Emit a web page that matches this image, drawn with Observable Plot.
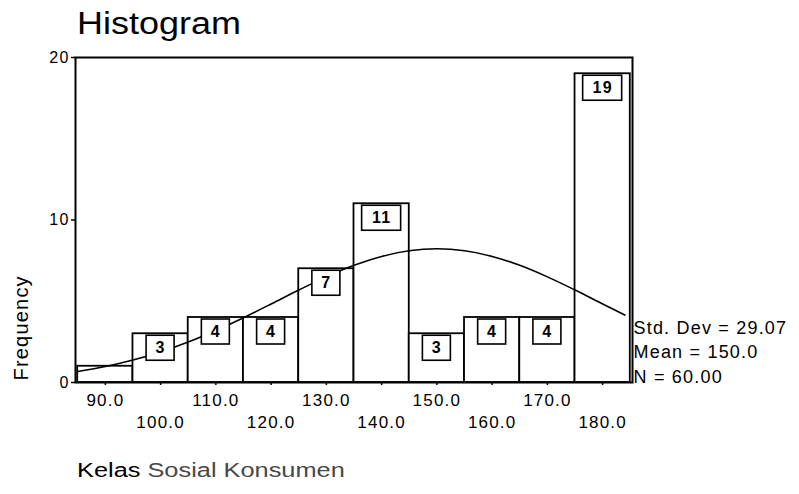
<!DOCTYPE html>
<html><head><meta charset="utf-8">
<script src="https://cdn.jsdelivr.net/npm/d3@7"></script>
<script src="https://cdn.jsdelivr.net/npm/@observablehq/plot@0.6"></script>
<style>
body{margin:0;background:#fff;}
#wrap{position:relative;width:799px;height:494px;overflow:hidden;font-family:"Liberation Sans",Arial,sans-serif;background:#fff;}
#title{position:absolute;left:77px;top:6px;font-size:31px;line-height:36px;color:#000;white-space:nowrap;transform:scaleX(1.16);transform-origin:left center;}
#chart{position:absolute;left:0;top:44px;}
#caption{position:absolute;left:77px;top:458px;font-size:19.5px;line-height:24px;white-space:nowrap;transform:scaleX(1.3);transform-origin:left center;}
#chart svg text{letter-spacing:1.2px;}
</style></head>
<body><div id="wrap"><div id="title">Histogram</div><div id="chart"></div><div id="caption"><span style="color:#000">Kelas</span> <span style="color:#484848">Sosial Konsumen</span></div></div>
<script>
const binCenters = [90, 100, 110, 120, 130, 140, 150, 160, 170, 180];
const counts = [1, 3, 4, 4, 7, 11, 3, 4, 4, 19];
const binWidth = 10;
const curveX = [85, 90, 95, 100, 105, 110, 115, 120, 125, 130, 135, 140, 145, 150, 155, 160, 165, 170, 175, 180, 184];
const curveY = [0.68, 0.98, 1.38, 1.88, 2.49, 3.20, 3.99, 4.83, 5.69, 6.50, 7.21, 7.76, 8.11, 8.23, 8.11, 7.76, 7.21, 6.50, 5.69, 4.83, 4.15];
const xTicksUpper = [90, 110, 130, 150, 170];
const xTicksLower = [100, 120, 140, 160, 180];
const yTicks = [0, 10, 20];
const statNames = ["Std. Dev", "Mean", "N"];
const statValues = ["29.07", "150.0", "60.00"];
const yLabel = "Frequency";

const bins = binCenters.map((c, i) => ({center: c, x1: c - binWidth / 2, x2: c + binWidth / 2, count: counts[i]}));
const labelled = bins.filter(d => d.count > 1);
const oneDigit = labelled.filter(d => d.count < 10);
const twoDigit = labelled.filter(d => d.count >= 10);
const curve = curveX.map((x, i) => ({x, y: curveY[i]}));
const statText = statNames.map((n, i) => `${n} = ${statValues[i]}`).join("\n");
const fmt = d => d.toFixed(1);

const chart = Plot.plot({
  width: 799,
  height: 400,
  marginLeft: 75,
  marginRight: 167,
  marginTop: 13,
  marginBottom: 62,
  style: {fontFamily: "'Liberation Sans', Arial, sans-serif", color: "#000", background: "#fff"},
  x: {domain: [84.6, 185.4]},
  y: {domain: [0, 20]},
  marks: [
    Plot.rect(bins, {x1: "x1", x2: "x2", y1: 0, y2: "count", fill: "white", stroke: "black", strokeWidth: 1.8}),
    Plot.line(curve, {x: "x", y: "y", stroke: "black", strokeWidth: 1.6, curve: "catmull-rom"}),
    Plot.rect(oneDigit, {x1: "center", x2: "center", y1: "count", y2: "count", insetLeft: -14, insetRight: -14, insetTop: 2, insetBottom: -27, fill: "white", stroke: "black", strokeWidth: 1.6}),
    Plot.rect(twoDigit, {x1: "center", x2: "center", y1: "count", y2: "count", insetLeft: -19.5, insetRight: -19.5, insetTop: 2, insetBottom: -27, fill: "white", stroke: "black", strokeWidth: 1.6}),
    Plot.text(labelled, {x: "center", y: "count", text: d => String(d.count), dy: 14.5, lineAnchor: "middle", fontSize: 16, fontWeight: "bold", fill: "black"}),
    Plot.frame({stroke: "black", strokeWidth: 2}),
    Plot.axisY({ticks: yTicks, tickFormat: d => String(d), tickSize: 4, tickPadding: 2, fontSize: 16, label: null, strokeWidth: 1.5}),
    Plot.axisX({ticks: xTicksUpper, tickFormat: fmt, tickSize: 3, tickPadding: 8, fontSize: 17, label: null, strokeWidth: 1.5}),
    Plot.axisX({ticks: xTicksLower, tickFormat: fmt, tickSize: 3, tickPadding: 30, fontSize: 17, label: null, strokeWidth: 1.5}),
    Plot.text([statText], {text: d => d, frameAnchor: "bottom-right", textAnchor: "start", lineAnchor: "bottom", lineHeight: 1.36, dx: 1, dy: 0, fontSize: 18, fill: "black"}),
    Plot.text([yLabel], {text: d => d, frameAnchor: "bottom-left", textAnchor: "start", lineAnchor: "middle", rotate: -90, dx: -54, dy: -2, fontSize: 20, fill: "black"})
  ]
});
document.getElementById("chart").appendChild(chart);
</script>
</body></html>
